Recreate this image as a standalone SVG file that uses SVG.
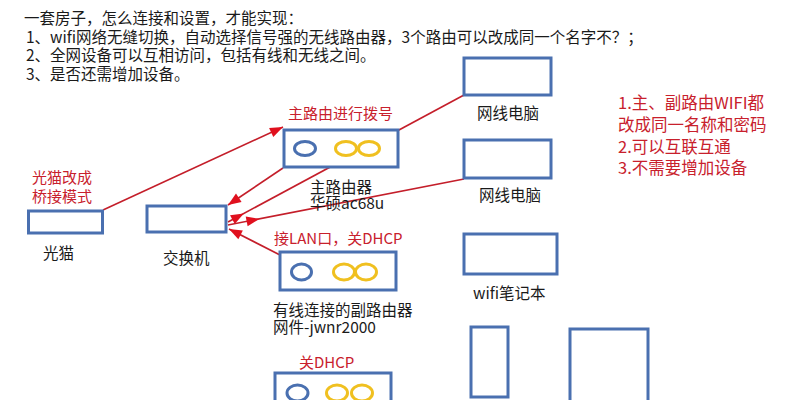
<svg xmlns="http://www.w3.org/2000/svg" width="800" height="400" viewBox="0 0 800 400">
<style>
  text { font-family: "Noto Sans CJK SC", "Noto Sans", sans-serif; }
  .t { font-size: 15.5px; fill: #1a1a1a; }
  .r { font-size: 15px; fill: #c8202c; }
  .rr { font-size: 16.5px; fill: #c8202c; }
  .box { fill: #fff; stroke: #4a70b0; stroke-width: 3; }
  .blue { fill: none; stroke: #4a70b0; stroke-width: 3; }
  .yel { fill: none; stroke: #f0c020; stroke-width: 3; }
  .ln { fill: none; stroke: #c41e2a; stroke-width: 1.6; }
</style>
<defs>
  <marker id="ah" markerUnits="userSpaceOnUse" markerWidth="14" markerHeight="10" refX="13" refY="5" orient="auto" overflow="visible">
    <path d="M0,0 L13,5 L0,10 z" fill="#e0101e"/>
  </marker>
  <marker id="ao1" markerUnits="userSpaceOnUse" markerWidth="14" markerHeight="10" refX="-5" refY="5" orient="auto" overflow="visible">
    <path d="M0,0 L13,5 L0,10 z" fill="#e0101e"/>
  </marker>
  <marker id="ao2" markerUnits="userSpaceOnUse" markerWidth="14" markerHeight="10" refX="-19" refY="5" orient="auto" overflow="visible">
    <path d="M0,0 L13,5 L0,10 z" fill="#e0101e"/>
  </marker>
</defs>
<rect width="800" height="400" fill="#fff"/>

<g id="title">
  <text class="t" x="24" y="24">一套房子，怎么连接和设置，才能实现：</text>
  <text class="t" x="26" y="42.7">1、wifi网络无缝切换，自动选择信号强的无线路由器，3个路由可以改成同一个名字不？；</text>
  <text class="t" x="26" y="61.4">2、全网设备可以互相访问，包括有线和无线之间。</text>
  <text class="t" x="26" y="80">3、是否还需增加设备。</text>
</g>

<g id="connectors">
  <line class="ln" x1="103" y1="210" x2="283" y2="127" marker-end="url(#ah)"/>
  <line class="ln" x1="283" y1="168" x2="228" y2="205" marker-end="url(#ah)"/>
  <line class="ln" x1="228" y1="222" x2="464" y2="95" marker-start="url(#ao1)"/>
  <line class="ln" x1="228" y1="225" x2="464" y2="179" marker-start="url(#ao2)"/>
  <line class="ln" x1="280" y1="255" x2="229" y2="229" marker-end="url(#ah)"/>
</g>

<g id="modem">
  <rect class="box" x="28.5" y="211" width="74" height="22"/>
  <text class="r" x="32" y="183">光猫改成</text>
  <text class="r" x="32" y="202">桥接模式</text>
  <text class="t" x="43" y="259">光猫</text>
</g>

<g id="switch">
  <rect class="box" x="147" y="206" width="79" height="26"/>
  <text class="t" x="163" y="264">交换机</text>
</g>

<g id="main-router">
  <text class="r" x="288" y="119">主路由进行拨号</text>
  <rect class="box" x="284" y="130" width="114" height="37"/>
  <ellipse class="blue" cx="305" cy="148.5" rx="10.5" ry="7"/>
  <ellipse class="yel" cx="346" cy="148.5" rx="10.5" ry="7"/>
  <ellipse class="yel" cx="369" cy="148.5" rx="10.5" ry="7"/>
  <text class="t" x="310" y="193">主路由器</text>
  <text class="t" x="310" y="209">华硕ac68u</text>
</g>

<g id="sub-router">
  <text class="r" x="274" y="244">接LAN口，关DHCP</text>
  <rect class="box" x="280" y="252" width="116" height="38"/>
  <ellipse class="blue" cx="301.5" cy="272" rx="10" ry="8"/>
  <ellipse class="yel" cx="344" cy="272" rx="10.5" ry="8"/>
  <ellipse class="yel" cx="366" cy="272" rx="10.5" ry="8"/>
  <text class="t" x="273" y="316">有线连接的副路由器</text>
  <text class="t" x="273" y="333">网件-jwnr2000</text>
</g>

<g id="third-router">
  <text class="r" x="299" y="368">关DHCP</text>
  <rect class="box" x="275" y="373" width="116" height="40"/>
  <ellipse class="blue" cx="297.5" cy="393" rx="10.5" ry="8"/>
  <ellipse class="yel" cx="337" cy="393" rx="10.5" ry="8"/>
  <ellipse class="yel" cx="362" cy="393" rx="10.5" ry="8"/>
</g>

<g id="pc1">
  <rect class="box" x="464" y="58" width="87" height="37"/>
  <text class="t" x="477" y="119">网线电脑</text>
</g>

<g id="pc2">
  <rect class="box" x="464" y="140" width="87" height="38"/>
  <text class="t" x="479" y="201">网线电脑</text>
</g>

<g id="laptop">
  <rect class="box" x="464" y="234" width="93" height="40"/>
  <text class="t" x="473" y="299">wifi笔记本</text>
</g>

<g id="device-tall">
  <rect class="box" x="471" y="327" width="37" height="70"/>
</g>

<g id="device-square">
  <rect class="box" x="570" y="329" width="78" height="80"/>
</g>

<g id="notes">
  <text class="rr" x="618" y="109">1.主、副路由WIFI都</text>
  <text class="rr" x="618" y="131">改成同一名称和密码</text>
  <text class="rr" x="618" y="153">2.可以互联互通</text>
  <text class="rr" x="618" y="174">3.不需要增加设备</text>
</g>
</svg>
